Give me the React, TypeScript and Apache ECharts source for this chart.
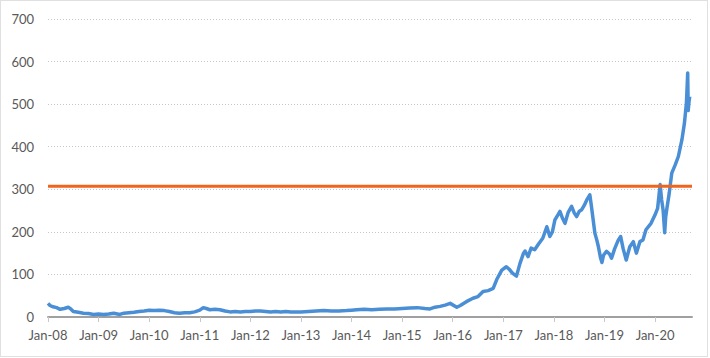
import React, { useEffect, useRef } from "react";
import * as echarts from "echarts";

// Decimal-year positions and closing prices
const time: number[] = [
  2008.0, 2008.04, 2008.1, 2008.17, 2008.24, 2008.32, 2008.4, 2008.45, 2008.5, 2008.6,
  2008.7, 2008.8, 2008.9, 2009.0, 2009.1, 2009.2, 2009.3, 2009.42, 2009.5, 2009.6,
  2009.7, 2009.8, 2009.9, 2010.0, 2010.1, 2010.2, 2010.3, 2010.4, 2010.5, 2010.6,
  2010.7, 2010.8, 2010.9, 2011.0, 2011.07, 2011.13, 2011.2, 2011.3, 2011.4, 2011.5,
  2011.6, 2011.7, 2011.8, 2011.9, 2012.0, 2012.1, 2012.2, 2012.3, 2012.4, 2012.5,
  2012.6, 2012.7, 2012.8, 2012.9, 2013.0, 2013.15, 2013.3, 2013.45, 2013.6, 2013.75,
  2013.9, 2014.0, 2014.1, 2014.25, 2014.4, 2014.55, 2014.7, 2014.85, 2015.0, 2015.15,
  2015.3, 2015.45, 2015.55, 2015.65, 2015.75, 2015.85, 2015.95, 2016.08, 2016.15, 2016.27,
  2016.4, 2016.5, 2016.6, 2016.7, 2016.8, 2016.87, 2016.97, 2017.06, 2017.12, 2017.18,
  2017.26, 2017.33, 2017.4, 2017.43, 2017.49, 2017.55, 2017.62, 2017.7, 2017.78, 2017.86,
  2017.92, 2017.97, 2018.02, 2018.08, 2018.12, 2018.17, 2018.22, 2018.28, 2018.35, 2018.4,
  2018.45, 2018.5, 2018.55, 2018.6, 2018.65, 2018.71, 2018.74, 2018.78, 2018.81, 2018.85,
  2018.88, 2018.92, 2018.95, 2018.98, 2019.04, 2019.1, 2019.14, 2019.2, 2019.27, 2019.32,
  2019.37, 2019.43, 2019.5, 2019.57, 2019.63, 2019.7, 2019.76, 2019.82, 2019.92, 2020.0,
  2020.05, 2020.1, 2020.13, 2020.16, 2020.19, 2020.21, 2020.23, 2020.28, 2020.33, 2020.4,
  2020.46, 2020.53, 2020.58, 2020.62, 2020.645, 2020.655, 2020.67, 2020.685,
];

const price: number[] = [
  32, 27, 24, 22, 18, 20, 23, 19, 13, 11,
  9, 8, 6, 7, 6, 7, 9, 6, 9, 10,
  11, 13, 14, 16, 15, 16, 15, 13, 10, 9,
  10, 10, 12, 16, 22, 20, 17, 18, 17, 14,
  12, 13, 12, 13, 13, 14, 14, 13, 12, 13,
  12, 13, 12, 12, 12, 13, 14, 15, 14, 14,
  15, 16, 17, 18, 17, 18, 19, 19, 20, 21,
  22, 20, 19, 23, 25, 28, 32, 23, 27, 36,
  44, 48, 60, 62, 67, 88, 110, 118, 112, 103,
  96, 126, 150, 155, 142, 162, 158, 172, 185, 212,
  189, 200, 228, 240, 248, 232, 220, 245, 260, 245,
  236, 248, 252, 262, 275, 287, 262, 225, 197, 180,
  165, 140, 128, 145, 154, 148, 138, 160, 180, 189,
  160, 134, 165, 177, 150, 177, 181, 205, 220, 240,
  255, 311, 275, 250, 198, 235, 252, 291, 338, 358,
  377, 416, 455, 503, 573, 485, 505, 518,
];

const threshold = 307;
const yearTicks: number[] = [2008, 2009, 2010, 2011, 2012, 2013, 2014, 2015, 2016, 2017, 2018, 2019, 2020];
const xMin = 2008;
const xMax = 2020.73;

export default function App() {
  const ref = useRef<HTMLDivElement>(null);

  useEffect(() => {
    if (!ref.current) return;
    const chart = echarts.init(ref.current, null, { renderer: "svg" });
    const font = "Lato, 'Open Sans', sans-serif";
    chart.setOption({
      animation: false,
      grid: { left: 48, right: 18, top: 19, bottom: 41, containLabel: false },
      xAxis: {
        type: "value",
        min: xMin,
        max: xMax,
        interval: 1,
        axisLine: { show: true, lineStyle: { color: "#a0a0a0", width: 2 } },
        axisTick: {
          show: true,
          length: 5,
          customValues: yearTicks,
          lineStyle: { color: "#c8c8c8", width: 1 },
        },
        axisLabel: {
          customValues: yearTicks,
          color: "#595959",
          fontFamily: font,
          fontSize: 13,
          margin: 11,
          formatter: (v: number) => "Jan-" + String(Math.round(v) % 100).padStart(2, "0"),
        },
        splitLine: { show: false },
      },
      yAxis: {
        type: "value",
        min: 0,
        max: 700,
        interval: 100,
        axisLine: { show: false },
        axisTick: { show: false },
        axisLabel: { color: "#595959", fontFamily: font, fontSize: 13, margin: 14 },
        splitLine: { show: true, lineStyle: { color: "#c8c8c8", type: [1, 2], width: 1 } },
      },
      graphic: [
        {
          type: "rect",
          shape: { x: 0.5, y: 0.5, width: 707, height: 356 },
          style: { fill: "none", stroke: "#c0c0c0", lineWidth: 1, lineDash: [1, 1] },
          silent: true,
          z: -1,
        },
      ],
      series: [
        {
          type: "line",
          data: time.map((t, i) => [t, price[i]]),
          showSymbol: false,
          symbol: "none",
          lineStyle: { color: "#4a8fd6", width: 3.5, join: "round" },
          z: 2,
        },
        {
          type: "line",
          data: [
            [xMin, threshold],
            [xMax, threshold],
          ],
          showSymbol: false,
          symbol: "none",
          lineStyle: { color: "#f0641e", width: 3 },
          z: 3,
        },
      ],
    });
    return () => chart.dispose();
  }, []);

  return (
    <div
      ref={ref}
      style={{ position: "fixed", left: 0, top: 0, width: 710, height: 358, background: "#fff" }}
    />
  );
}
